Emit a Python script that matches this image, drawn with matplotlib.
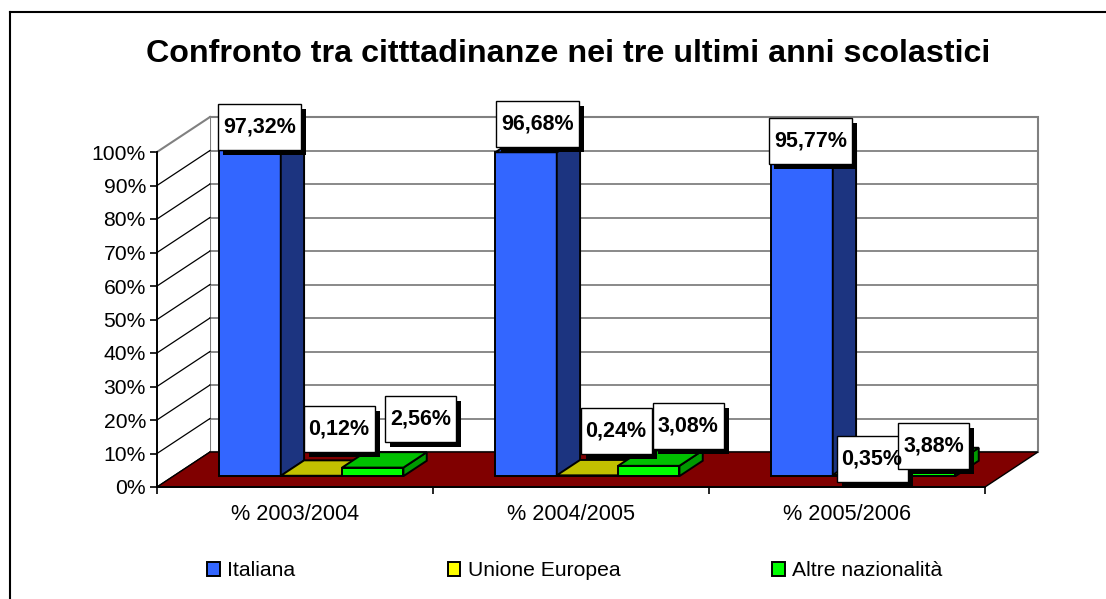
import numpy as np
import matplotlib
matplotlib.use('Agg')
import matplotlib.pyplot as plt
from matplotlib.patches import Polygon, Rectangle, Patch
from matplotlib.lines import Line2D
from matplotlib.transforms import IdentityTransform

plt.rcParams['font.family'] = ['Liberation Sans', 'DejaVu Sans']

# data
years = ['% 2003/2004', '% 2004/2005', '% 2005/2006']
series = ['Italiana', 'Unione Europea', 'Altre nazionalità']
italiana = [97.32, 96.68, 95.77]
unione_europea = [0.12, 0.24, 0.35]
altre = [2.56, 3.08, 3.88]
yticks = list(range(0, 101, 10))

values = [italiana, unione_europea, altre]
front_col = ['#3366FF', '#FFFF00', '#00FF00']
top_col = ['#2A55D8', '#C2C000', '#00C000']
side_col = ['#1C3480', '#999900', '#009900']
legend_col = ['#3366FF', '#FFFF00', '#00FF00']

# pseudo 3d geometry (category units / percent units for full depth)
DX = 53 / 276
DY = 35 / 3.35
D0, D1 = 0.31, 0.75
BW = 1 / 4.5
# label centre offsets in pixels (right, up) from the bar top
label_off = [[(-2, 15), (0, 21), (-3, 7)],
             [(16, 39), (17, 37), (-3, 8)],
             [(36, 41), (28, 32), (-3, 9)]]


def P(x, y, d):
    return (x + d * DX, y + d * DY)


W, H = 1106, 599
fig = plt.figure(figsize=(W / 100, H / 100), dpi=100)
ax = fig.add_axes([157 / W, (H - 487) / H, 828 / W, 335 / H])
ax.set_xlim(-0.5, 2.5)
ax.set_ylim(0, 100)
ax.patch.set_visible(False)

# walls
ax.add_patch(Polygon([P(-0.5, 0, 1), P(2.5, 0, 1), P(2.5, 100, 1), P(-0.5, 100, 1)],
                     closed=True, fc='white', ec='#808080', lw=1.5, clip_on=False, zorder=1))
ax.add_patch(Polygon([P(-0.5, 0, 0), P(-0.5, 0, 1), P(-0.5, 100, 1), P(-0.5, 100, 0)],
                     closed=True, fc='white', ec='none', clip_on=False, zorder=1))
for v in yticks:
    a, b = P(-0.5, v, 1), P(2.5, v, 1)
    ax.add_line(Line2D([a[0], b[0]], [a[1], b[1]], color='#808080', lw=1.3, clip_on=False, zorder=2))
    c = P(-0.5, v, 0)
    ax.add_line(Line2D([c[0], a[0]], [c[1], a[1]], color='#808080' if v == 100 else 'black',
                       lw=1.5 if v == 100 else 0.9, clip_on=False, zorder=2))

# floor
ax.add_patch(Polygon([P(-0.5, 0, 0), P(2.5, 0, 0), P(2.5, 0, 1), P(-0.5, 0, 1)],
                     closed=True, fc='#800000', ec='black', lw=1, clip_on=False, zorder=3))

# bars
for i in range(len(years)):
    for j in range(len(series)):
        v = values[j][i]
        x0 = i - 0.5 + 0.75 * BW + j * BW
        x1 = x0 + BW
        kw = dict(closed=True, ec='black', lw=1.4, clip_on=False, zorder=4, joinstyle='miter')
        ax.add_patch(Polygon([P(x0, 0, D0), P(x1, 0, D0), P(x1, v, D0), P(x0, v, D0)], fc=front_col[j], **kw))
        ax.add_patch(Polygon([P(x1, 0, D0), P(x1, 0, D1), P(x1, v, D1), P(x1, v, D0)], fc=side_col[j], **kw))
        ax.add_patch(Polygon([P(x0, v, D0), P(x1, v, D0), P(x1, v, D1), P(x0, v, D1)], fc=top_col[j], **kw))

# axes
for s in ['top', 'right']:
    ax.spines[s].set_visible(False)
ax.spines['left'].set_linewidth(1.4)
ax.spines['bottom'].set_linewidth(1.4)
ax.spines['left'].set_zorder(5)
ax.spines['bottom'].set_zorder(5)
ax.set_yticks(yticks)
ax.set_yticklabels([f'{v}%' for v in yticks], fontsize=15.2)
ax.tick_params(axis='y', length=5, width=1.2, pad=3)
ax.set_xticks([-0.5, 0.5, 1.5, 2.5])
ax.set_xticklabels([])
ax.tick_params(axis='x', length=5, width=1.2)
ax.set_xticks(range(len(years)), minor=True)
ax.set_xticklabels(years, minor=True, fontsize=15.6)
ax.tick_params(axis='x', which='minor', length=0, pad=12)

# data labels
fig.canvas.draw()
renderer = fig.canvas.get_renderer()
for i in range(len(years)):
    for j in range(len(series)):
        v = values[j][i]
        x0 = i - 0.5 + 0.75 * BW + j * BW
        dm = (D0 + D1) / 2
        px, py = ax.transData.transform(P(x0 + BW / 2, v, dm))
        ox, oy = label_off[j][i]
        cx, cy = px + ox, py + oy
        txt = f'{v:.2f}%'.replace('.', ',')
        t = fig.text(cx, cy, txt, transform=IdentityTransform(), ha='center', va='center',
                     fontsize=15.5, fontweight='bold', zorder=11.5)
        tw = t.get_window_extent(renderer).width
        bw, bh = tw + 10, 46
        fig.add_artist(Rectangle((cx - bw / 2 + 5, cy - bh / 2 - 5), bw, bh, transform=IdentityTransform(),
                                 fc='black', ec='none', zorder=10))
        fig.add_artist(Rectangle((cx - bw / 2, cy - bh / 2), bw, bh, transform=IdentityTransform(),
                                 fc='white', ec='black', lw=1, zorder=11))

# title
fig.text(568 / W, 1 - 54 / H, 'Confronto tra citttadinanze nei tre ultimi anni scolastici',
         ha='center', va='center', fontsize=23.2, fontweight='bold')

# legend
handles = [Patch(fc=legend_col[k], ec='black', lw=1.4, label=series[k]) for k in range(3)]
fig.legend(handles=handles, loc='center', bbox_to_anchor=(575 / W, 1 - 571 / H), ncol=3,
           frameon=False, fontsize=15.2, handlelength=0.6, handleheight=0.65,
           handletextpad=0.35, columnspacing=7.2)

# chart border
fig.add_artist(Line2D([9.5 / W, 9.5 / W], [0, 1 - 12 / H], color='black', lw=1.5))
fig.add_artist(Line2D([9.5 / W, 1], [1 - 12 / H, 1 - 12 / H], color='black', lw=1.5))

fig.savefig('out.png', dpi=100)
